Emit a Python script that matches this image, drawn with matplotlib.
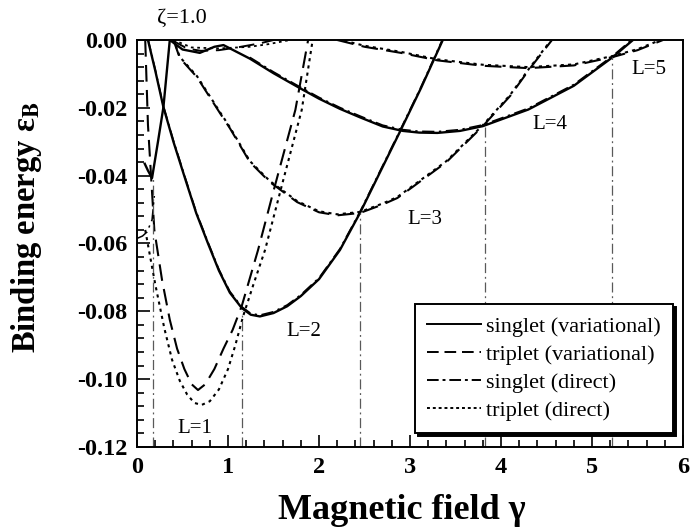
import numpy as np
import matplotlib.pyplot as plt
from matplotlib.ticker import MultipleLocator, FormatStrFormatter

plt.rcParams['font.family'] = ['Liberation Serif', 'DejaVu Serif']
plt.rcParams['mathtext.fontset'] = 'stix'

# ---- data (gamma, binding energy) ----
# L=0, singlet
l0_sv_g = [0.085, 0.12, 0.165, 0.23, 0.29, 0.36]
l0_sv_e = [-0.0365, -0.0385, -0.0407, -0.030, -0.0198, 0.0]
l0_sd_g = [0.0, 0.06, 0.11, 0.165, 0.19]
l0_sd_e = [-0.0585, -0.0578, -0.0566, -0.053, -0.046]

# L=1, triplet
l1_tv_g = [0.09, 0.12, 0.19, 0.275, 0.36, 0.44, 0.52, 0.60, 0.67, 0.75, 0.85, 0.95, 1.05, 1.15, 1.33, 1.50, 1.74, 1.88]
l1_tv_e = [0.0, -0.025, -0.056, -0.0708, -0.0825, -0.091, -0.097, -0.1015, -0.1032, -0.1015, -0.097, -0.091, -0.0855, -0.0785, -0.0619, -0.0445, -0.0206, 0.0]
l1_td_g = [0.09, 0.2, 0.3, 0.385, 0.47, 0.55, 0.63, 0.71, 0.80, 0.90, 1.00, 1.08, 1.165, 1.28, 1.407, 1.60, 1.81, 1.93]
l1_td_e = [-0.056, -0.072, -0.085, -0.0943, -0.1005, -0.1045, -0.107, -0.1076, -0.1065, -0.103, -0.097, -0.090, -0.0815, -0.072, -0.0619, -0.042, -0.0206, 0.0]

# L=2, singlet
l2_sv_g = [0.12, 0.2, 0.29, 0.40, 0.53, 0.65, 0.78, 0.90, 1.02, 1.15, 1.25, 1.35, 1.50, 1.65, 1.80, 2.00, 2.23, 2.45, 2.56, 2.89, 3.12, 3.36]
l2_sv_e = [0.0, -0.009, -0.0198, -0.030, -0.041, -0.051, -0.060, -0.068, -0.0745, -0.079, -0.081, -0.0815, -0.0805, -0.0785, -0.0755, -0.0705, -0.0619, -0.051, -0.045, -0.027, -0.0142, 0.0]

# L=3, triplet
l3_tv_g = [0.40, 0.47, 0.66, 0.91, 1.02, 1.24, 1.46, 1.76, 2.00, 2.20, 2.45, 2.70, 2.86, 3.03, 3.40, 3.80, 4.10, 4.32, 4.56]
l3_tv_e = [0.0, -0.0053, -0.011, -0.0215, -0.026, -0.036, -0.0419, -0.0478, -0.0508, -0.0517, -0.051, -0.0485, -0.0466, -0.0433, -0.036, -0.0254, -0.0165, -0.0083, 0.0]

# L=4, singlet
l4_sv_g = [0.36, 0.50, 0.69, 0.85, 0.95, 1.24, 1.50, 1.79, 2.00, 2.23, 2.45, 2.70, 2.92, 3.10, 3.30, 3.55, 3.80, 4.30, 4.80, 5.23, 5.45]
l4_sv_e = [0.0, -0.0028, -0.0038, -0.002, -0.0015, -0.0055, -0.0098, -0.0142, -0.0173, -0.0203, -0.0228, -0.0255, -0.0268, -0.0273, -0.0274, -0.0268, -0.0254, -0.0205, -0.0135, -0.0050, 0.0]

# L=5, triplet
l5_tv_g = [2.20, 2.5, 2.9, 3.3, 3.8, 4.3, 4.8, 5.23, 5.5, 5.78]
l5_tv_e = [0.0, -0.002, -0.0038, -0.006, -0.0076, -0.0083, -0.0075, -0.0050, -0.003, 0.0]

# near-zero branches at small field
dip_tv_g = [0.38, 0.55, 0.70, 0.90, 1.10, 1.35, 1.50]
dip_tv_e = [0.0, -0.0025, -0.0032, -0.003, -0.0022, -0.001, 0.0]
dip_td_g = [0.40, 0.6, 0.9, 1.24, 1.45, 1.68]
dip_td_e = [0.0, -0.0022, -0.0025, -0.002, -0.0012, 0.0]

# ground-state transition fields
trans_g = [0.17, 1.15, 2.45, 3.82, 5.22]
trans_e = [-0.0410, -0.0800, -0.0510, -0.0254, -0.0050]

labels_L = ['L=1', 'L=2', 'L=3', 'L=4', 'L=5']
labels_g = [0.64, 1.83, 3.16, 4.54, 5.62]
labels_e = [-0.1144, -0.086, -0.053, -0.025, -0.0088]

fig = plt.figure(figsize=(6.9, 5.29), dpi=100)
ax = fig.add_axes([0.1986, 0.155, 0.7913, 0.7694])

lw = 1.7
dashdot = (0, (8, 3, 1.5, 3))
# singlet: variational solid + direct dash-dot nearly on top
ax.plot(l0_sv_g, l0_sv_e, 'k-', lw=lw)
ax.plot(l0_sd_g, l0_sd_e, color='k', ls=dashdot, lw=1.1)
ax.plot(l2_sv_g, l2_sv_e, 'k-', lw=lw)
ax.plot(l2_sv_g, np.array(l2_sv_e) + 0.0004, color='k', ls=dashdot, lw=1.1)
ax.plot(l4_sv_g, l4_sv_e, 'k-', lw=lw)
ax.plot(l4_sv_g[5:], np.array(l4_sv_e[5:]) + 0.0004, color='k', ls=dashdot, lw=1.1)

# triplet: variational dashed + direct dotted
ax.plot(l1_tv_g, l1_tv_e, color='k', ls=(0, (8, 4)), lw=1.5)
ax.plot(l1_td_g, l1_td_e, color='k', ls=(0, (1.5, 2)), lw=1.5)
for g, e in [(l3_tv_g, l3_tv_e), (l5_tv_g, l5_tv_e)]:
    ax.plot(g, e, color='k', ls=(0, (8, 4)), lw=1.5)
    ax.plot(g, np.array(e) + 0.0003, color='k', ls=(0, (1.5, 2)), lw=1.5)
ax.plot(dip_tv_g, dip_tv_e, color='k', ls=(0, (8, 4)), lw=1.4)
ax.plot(dip_td_g, dip_td_e, color='k', ls=(0, (1.5, 2)), lw=1.3)

# transition markers
ax.vlines(trans_g, -0.12, trans_e, colors='0.35', linestyles=dashdot, lw=0.9)

for t, g, e in zip(labels_L, labels_g, labels_e):
    ax.text(g, e, t, fontsize=15, ha='center', va='center')
ax.text(0.49, 0.0065, '\u03b6=1.0', fontsize=16, ha='center', va='center', clip_on=False)

# legend
h1, = ax.plot([], [], 'k-', lw=1.4)
h2, = ax.plot([], [], color='k', ls=(0, (6, 3)), lw=1.4)
h3, = ax.plot([], [], color='k', ls=(0, (6, 2, 1.5, 2)), lw=1.4)
h4, = ax.plot([], [], color='k', ls=(0, (1.5, 1.5)), lw=1.4)
leg = ax.legend([h1, h2, h3, h4],
                ['singlet (variational)', 'triplet (variational)', 'singlet (direct)', 'triplet (direct)'],
                loc='lower right', bbox_to_anchor=(0.982, 0.034), borderaxespad=0,
                fontsize=16, handlelength=2.4, labelspacing=0.33, handletextpad=0.25,
                borderpad=0.55, fancybox=False, edgecolor='k', framealpha=1,
                shadow={'color': 'k', 'alpha': 1})
leg.get_frame().set_linewidth(1.4)

ax.set_xlim(0, 6)
ax.set_ylim(-0.12, 0.0)
ax.xaxis.set_major_locator(MultipleLocator(1))
ax.xaxis.set_minor_locator(MultipleLocator(0.2))
ax.yaxis.set_major_locator(MultipleLocator(0.02))
ax.yaxis.set_minor_locator(MultipleLocator(0.004))
ax.yaxis.set_major_formatter(FormatStrFormatter('%.2f'))
ax.tick_params(which='both', direction='in', top=False, right=False, width=1.2)
ax.tick_params(which='major', length=9, labelsize=17.5, pad=7)
ax.tick_params(which='minor', length=5)
for lab in ax.get_xticklabels() + ax.get_yticklabels():
    lab.set_fontweight('bold')
for s in ax.spines.values():
    s.set_linewidth(1.4)

ax.set_xlabel('Magnetic field \u03b3', fontsize=26, fontweight='bold')
ax.set_ylabel('Binding energy \u03b5$_\\mathbf{B}$', fontsize=23.5, fontweight='bold')
ax.xaxis.set_label_coords(0.485, -0.115)
ax.yaxis.set_label_coords(-0.17, 0.54)

fig.savefig('out.png', dpi=100)
